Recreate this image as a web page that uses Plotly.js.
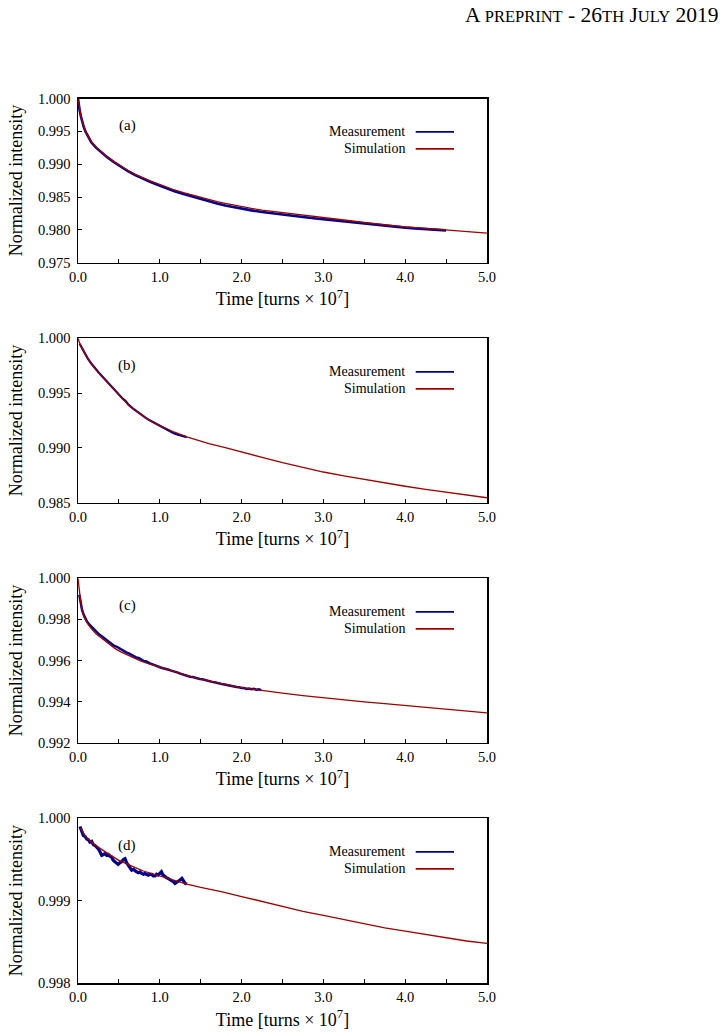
<!DOCTYPE html>
<html>
<head>
<meta charset="utf-8">
<script src="https://cdn.plot.ly/plotly-3.0.1.min.js"></script>
<style>html,body{margin:0;padding:0;background:#fff;}#chart{width:728px;height:1036px;}</style>
</head>
<body>
<div id="chart"></div>
<script>
// ---------- DATA ----------
const panelLabels = ["(a)", "(b)", "(c)", "(d)"];
const seriesNames = ["Measurement", "Simulation"];
const xTickVals = [0, 1, 2, 3, 4, 5];

// Panel (a)
const simA_t = [0, 0.01, 0.02, 0.035, 0.05, 0.07, 0.09, 0.12, 0.16, 0.22, 0.29, 0.36, 0.45, 0.53, 0.61, 0.7, 0.78, 0.88, 0.98, 1.08, 1.18, 1.29, 1.39, 1.5, 1.6, 1.7, 1.8, 1.9, 2.0, 2.12, 2.25, 2.38, 2.5, 2.75, 3.0, 3.25, 3.5, 3.75, 4.0, 4.25, 4.5, 4.75, 5.0];
const simA_v = [1.0, 0.9990, 0.9983, 0.9974, 0.9966, 0.9958, 0.9951, 0.9943, 0.99345, 0.9926, 0.99184, 0.9911, 0.99031, 0.98965, 0.98903, 0.98845, 0.98798, 0.98745, 0.98699, 0.9865, 0.98607, 0.98567, 0.98531, 0.98492, 0.98457, 0.9843, 0.98403, 0.98377, 0.98352, 0.98326, 0.98301, 0.9828, 0.98263, 0.98225, 0.98189, 0.9815, 0.98112, 0.98078, 0.98046, 0.98022, 0.98, 0.97975, 0.9795];
const measA_t = [0.0, 0.01, 0.02, 0.035, 0.05, 0.07, 0.09, 0.12, 0.16, 0.22, 0.29, 0.36, 0.45, 0.53, 0.61, 0.7, 0.78, 0.88, 0.98, 1.08, 1.18, 1.29, 1.39, 1.5, 1.6, 1.7, 1.8, 1.9, 2.0, 2.12, 2.25, 2.38, 2.5, 2.62, 2.75, 2.88, 3.0, 3.12, 3.25, 3.38, 3.5, 3.62, 3.75, 3.88, 4.0, 4.12, 4.25, 4.38, 4.5];
const measA_v = [1.0, 0.9989, 0.9982, 0.9973, 0.9965, 0.9957, 0.995, 0.9942, 0.99338, 0.99252, 0.99176, 0.99103, 0.99022, 0.98956, 0.98893, 0.98834, 0.98786, 0.98732, 0.98684, 0.98634, 0.98588, 0.98546, 0.98508, 0.98467, 0.9843, 0.984, 0.98372, 0.98346, 0.98322, 0.98297, 0.98272, 0.9825, 0.98232, 0.98214, 0.98196, 0.98178, 0.98162, 0.98146, 0.98128, 0.9811, 0.98094, 0.98079, 0.98064, 0.98048, 0.98034, 0.98023, 0.98011, 0.98, 0.97992];

// Panel (b)
const simB_t = [0, 0.02, 0.05, 0.1, 0.15, 0.2, 0.27, 0.33, 0.41, 0.49, 0.55, 0.61, 0.69, 0.77, 0.87, 0.98, 1.08, 1.18, 1.33, 1.46, 1.6, 1.8, 2.0, 2.25, 2.5, 2.75, 3.0, 3.25, 3.5, 3.75, 4.0, 4.25, 4.5, 4.75, 5.0];
const simB_v = [1.0, 0.99955, 0.9991, 0.9984, 0.99785, 0.9973, 0.99675, 0.99625, 0.99555, 0.99485, 0.9944, 0.99395, 0.99345, 0.99302, 0.99255, 0.9921, 0.99175, 0.99143, 0.991, 0.9907, 0.9904, 0.99002, 0.98965, 0.98914, 0.98865, 0.98821, 0.9878, 0.98745, 0.98712, 0.9868, 0.9865, 0.98622, 0.98595, 0.9857, 0.98545];
const measB_t = [0.02, 0.05, 0.08, 0.12, 0.16, 0.2, 0.25, 0.3, 0.35, 0.4, 0.45, 0.5, 0.55, 0.58, 0.62, 0.67, 0.72, 0.77, 0.82, 0.87, 0.92, 0.97, 1.02, 1.07, 1.12, 1.17, 1.22, 1.27, 1.33];
const measB_v = [0.9995, 0.99908, 0.99866, 0.99815, 0.99772, 0.99733, 0.9969, 0.9965, 0.99608, 0.99565, 0.99522, 0.9948, 0.99446, 0.9943, 0.99392, 0.9936, 0.9933, 0.99303, 0.99278, 0.99254, 0.99233, 0.99212, 0.99192, 0.99172, 0.99152, 0.99133, 0.9912, 0.99108, 0.99098];

// Panel (c)
const simC_t = [0, 0.01, 0.02, 0.04, 0.06, 0.08, 0.12, 0.16, 0.22, 0.29, 0.37, 0.45, 0.53, 0.61, 0.69, 0.77, 0.87, 0.98, 1.08, 1.18, 1.29, 1.39, 1.49, 1.59, 1.7, 1.8, 1.9, 2.0, 2.12, 2.23, 2.5, 2.75, 3.0, 3.25, 3.5, 3.75, 4.0, 4.25, 4.5, 4.75, 5.0];
const simC_v = [1.0, 0.99965, 0.99925, 0.99862, 0.99828, 0.99805, 0.99778, 0.99756, 0.9973, 0.99707, 0.99683, 0.99659, 0.99641, 0.99626, 0.99611, 0.99597, 0.99583, 0.99569, 0.99557, 0.99545, 0.99532, 0.9952, 0.9951, 0.99501, 0.99492, 0.99483, 0.99475, 0.99468, 0.99461, 0.99455, 0.99441, 0.99429, 0.99418, 0.99408, 0.99399, 0.9939, 0.99381, 0.99372, 0.99363, 0.99354, 0.99345];
const measC_t = [0.016, 0.03, 0.05, 0.07, 0.09, 0.11, 0.14, 0.17, 0.2, 0.23, 0.26, 0.29, 0.32, 0.35, 0.38, 0.41, 0.44, 0.47, 0.5, 0.53, 0.56, 0.59, 0.62, 0.65, 0.68, 0.71, 0.74, 0.77, 0.8, 0.83, 0.86, 0.89, 0.92, 0.95, 0.98, 1.01, 1.04, 1.07, 1.1, 1.13, 1.16, 1.19, 1.22, 1.25, 1.28, 1.31, 1.34, 1.37, 1.4, 1.43, 1.46, 1.49, 1.52, 1.55, 1.58, 1.61, 1.64, 1.67, 1.7, 1.73, 1.76, 1.79, 1.82, 1.85, 1.88, 1.91, 1.94, 1.97, 2.0, 2.03, 2.06, 2.09, 2.12, 2.15, 2.18, 2.21, 2.24];
const measC_v = [0.9992, 0.99885, 0.99845, 0.99822, 0.99805, 0.9979, 0.99774, 0.99762, 0.99748, 0.99738, 0.99726, 0.99718, 0.99708, 0.997, 0.99688, 0.99682, 0.99672, 0.99668, 0.9966, 0.99655, 0.99648, 0.9964, 0.99635, 0.99628, 0.99622, 0.99615, 0.99612, 0.99605, 0.99598, 0.99596, 0.99588, 0.99584, 0.9958, 0.99574, 0.99572, 0.99566, 0.99562, 0.9956, 0.99556, 0.99552, 0.99549, 0.99544, 0.99541, 0.99536, 0.99532, 0.9953, 0.99526, 0.99521, 0.9952, 0.99516, 0.99512, 0.9951, 0.99509, 0.99505, 0.99502, 0.995, 0.99496, 0.99494, 0.9949, 0.99489, 0.99485, 0.99483, 0.9948, 0.99479, 0.99475, 0.99474, 0.99471, 0.9947, 0.99466, 0.99466, 0.99462, 0.99464, 0.9946, 0.99462, 0.99458, 0.9946, 0.99456];

// Panel (d)
const simD_t = [0.03, 0.1, 0.2, 0.3, 0.4, 0.5, 0.6, 0.7, 0.8, 0.9, 1.0, 1.1, 1.2, 1.33, 1.5, 1.75, 2.0, 2.25, 2.5, 2.75, 3.0, 3.25, 3.5, 3.75, 4.0, 4.25, 4.5, 4.75, 5.0];
const simD_v = [0.99988, 0.99977, 0.99968, 0.99961, 0.99955, 0.99949, 0.99944, 0.9994, 0.99936, 0.99933, 0.9993, 0.99927, 0.99924, 0.9992, 0.99916, 0.99911, 0.99905, 0.99899, 0.99893, 0.99887, 0.99882, 0.99877, 0.99872, 0.99867, 0.99863, 0.99859, 0.99855, 0.99851, 0.99848];
const measD_t = [0.024, 0.045, 0.066, 0.086, 0.106, 0.126, 0.146, 0.167, 0.187, 0.208, 0.228, 0.248, 0.27, 0.29, 0.31, 0.33, 0.35, 0.37, 0.39, 0.41, 0.43, 0.45, 0.47, 0.49, 0.51, 0.53, 0.555, 0.575, 0.595, 0.616, 0.636, 0.656, 0.677, 0.697, 0.717, 0.737, 0.757, 0.778, 0.8, 0.82, 0.84, 0.86, 0.88, 0.9, 0.92, 0.94, 0.96, 0.98, 1.0, 1.02, 1.04, 1.06, 1.08, 1.1, 1.12, 1.145, 1.165, 1.185, 1.205, 1.226, 1.247, 1.27, 1.29, 1.31, 1.33];
const measD_v = [0.9999, 0.99984, 0.99979, 0.99978, 0.99975, 0.99974, 0.99971, 0.99972, 0.99968, 0.99967, 0.99965, 0.99963, 0.99959, 0.99955, 0.99956, 0.99957, 0.99955, 0.99956, 0.99954, 0.99953, 0.99949, 0.99947, 0.99945, 0.99944, 0.99946, 0.99947, 0.9995, 0.99951, 0.99946, 0.99943, 0.9994, 0.99937, 0.99938, 0.99936, 0.99935, 0.99934, 0.99935, 0.99933, 0.99932, 0.99933, 0.99932, 0.99931, 0.99932, 0.99932, 0.9993, 0.9993, 0.99932, 0.99931, 0.99933, 0.99935, 0.99931, 0.99929, 0.99928, 0.99927, 0.99926, 0.99925, 0.99923, 0.99921, 0.99922, 0.99923, 0.99925, 0.99927, 0.99924, 0.99921, 0.9992];

// Axis ranges / ticks for each panel
const yRanges = [[0.975, 1.000], [0.985, 1.000], [0.992, 1.000], [0.998, 1.000]];
const yTicks = [
  [0.975, 0.980, 0.985, 0.990, 0.995, 1.000],
  [0.985, 0.990, 0.995, 1.000],
  [0.992, 0.994, 0.996, 0.998, 1.000],
  [0.998, 0.999, 1.000]
];
const panels = [
  {mt: measA_t, mv: measA_v, st: simA_t, sv: simA_v, mw: 2.6},
  {mt: measB_t, mv: measB_v, st: simB_t, sv: simB_v, mw: 2.2},
  {mt: measC_t, mv: measC_v, st: simC_t, sv: simC_v, mw: 2.5},
  {mt: measD_t, mv: measD_v, st: simD_t, sv: simD_v, mw: 3.2}
];

// ---------- STYLE ----------
const FONT = "Liberation Serif";
const BLUE = "#00008f";
const RED = "#a00000";
const W = 728, H = 1036;
const xDom = [78 / W, 487 / W];
const pxTop = [98.5, 338.3, 578.3, 818.3];
const pxBot = [262.7, 502.7, 742.7, 983];

const data = [];
const layout = {
  width: W, height: H,
  margin: {l: 0, r: 0, t: 0, b: 0},
  paper_bgcolor: "#fff", plot_bgcolor: "#fff",
  showlegend: false,
  font: {family: FONT, color: "#000", size: 14},
  annotations: [], shapes: []
};

panels.forEach((p, i) => {
  const n = i === 0 ? "" : String(i + 1);
  const xa = "x" + n, ya = "y" + n;
  data.push({x: p.mt, y: p.mv, xaxis: xa, yaxis: ya, type: "scatter", mode: "lines",
    name: seriesNames[0], line: {color: BLUE, width: p.mw}});
  data.push({x: p.st, y: p.sv, xaxis: xa, yaxis: ya, type: "scatter", mode: "lines",
    name: seriesNames[1], line: {color: RED, width: 1.3}});

  layout["xaxis" + n] = {
    domain: xDom, anchor: ya, range: [0, 5],
    tickvals: xTickVals, tickformat: ".1f",
    ticks: "inside", ticklen: 4, tickwidth: 1, tickcolor: "#000",
    minor: {dtick: 0.5, tick0: 0, ticks: "inside", ticklen: 4, tickwidth: 1, tickcolor: "#000"},
    showline: true, mirror: true, linecolor: "#000", linewidth: 1.5,
    showgrid: false, zeroline: false,
    tickfont: {family: FONT, size: 14.5, color: "#000"},
    title: {text: "Time [turns × 10<sup>7</sup>]", font: {family: FONT, size: 18, color: "#000"}, standoff: 9}
  };
  layout["yaxis" + n] = {
    domain: [1 - pxBot[i] / H, 1 - pxTop[i] / H], anchor: xa, range: yRanges[i],
    tickvals: yTicks[i], tickformat: ".3f",
    ticks: "inside", ticklen: 4, tickwidth: 1, tickcolor: "#000",
    ticklabelstandoff: 3,
    showline: true, mirror: true, linecolor: "#000", linewidth: 1.5,
    showgrid: false, zeroline: false,
    tickfont: {family: FONT, size: 14.5, color: "#000"},
    title: {text: "Normalized intensity", font: {family: FONT, size: 18, color: "#000"}, standoff: 10}
  };

  // panel label
  layout.annotations.push({xref: xa + " domain", yref: ya + " domain", x: 0.12, y: 1 - 27.5 / 164.4,
    xanchor: "center", yanchor: "middle", showarrow: false, text: panelLabels[i],
    font: {family: FONT, size: 15, color: "#000"}});
  // legend (text left of line sample, as in the reference)
  const legY = [1 - 33.5 / 164.4, 1 - 50.5 / 164.4];
  const legCol = [BLUE, RED];
  for (let k = 0; k < 2; k++) {
    layout.annotations.push({xref: xa + " domain", yref: ya + " domain", x: (407 - 78) / 409, y: legY[k],
      xanchor: "right", yanchor: "middle", showarrow: false, text: seriesNames[k],
      font: {family: FONT, size: 14, color: "#000"}});
    layout.shapes.push({type: "line", xref: xa + " domain", yref: ya + " domain",
      x0: (415.7 - 78) / 409, x1: (454 - 78) / 409, y0: legY[k], y1: legY[k],
      line: {color: legCol[k], width: 1.8}});
  }
});

// page header
layout.annotations.push({xref: "paper", yref: "paper", x: 720 / W, y: 1 - 15 / H, xanchor: "right", yanchor: "middle",
  showarrow: false, font: {family: FONT, size: 21.5, color: "#000"},
  text: 'A <span style="font-size:16.5px">PREPRINT</span> - 26<span style="font-size:16.5px">TH</span> J<span style="font-size:16.5px">ULY</span> 2019'});

Plotly.newPlot("chart", data, layout, {staticPlot: true, displayModeBar: false});
</script>
</body>
</html>
